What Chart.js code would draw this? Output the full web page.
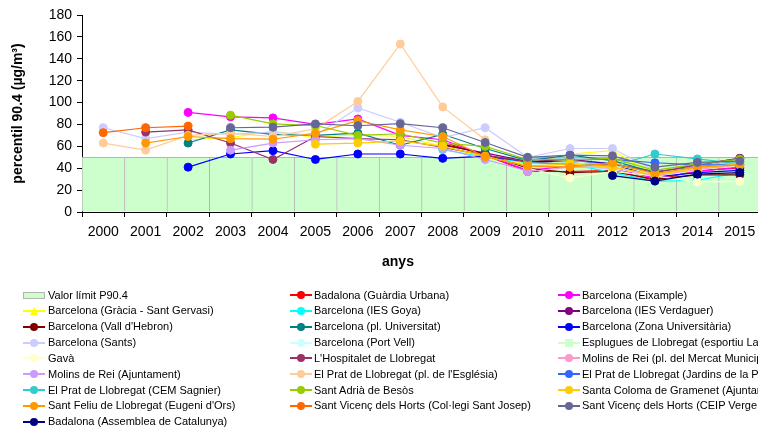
<!DOCTYPE html>
<html><head><meta charset="utf-8">
<script src="https://cdn.jsdelivr.net/npm/chart.js@4.4.1/dist/chart.umd.min.js"></script>
<style>
html,body{margin:0;padding:0;background:#fff;width:758px;height:430px;overflow:hidden;position:relative;font-family:"Liberation Sans",Arial,sans-serif;}
#wrap{position:absolute;left:0;top:0;width:766px;height:275px;}
#legend{position:absolute;left:0;top:0;width:758px;height:430px;pointer-events:none;}
.lt{position:absolute;font-size:11px;line-height:13px;white-space:nowrap;color:#000;}
.ln{position:absolute;height:2px;width:22px;}
.mk{position:absolute;}
#xt{position:absolute;left:348px;width:100px;text-align:center;top:253px;font:bold 14px "Liberation Sans",Arial,sans-serif;color:#000;}
</style></head><body>
<div id="wrap"><canvas id="c" width="766" height="275" style="width:766px;height:275px"></canvas></div>
<div id="xt">anys</div>
<div id="legend"></div>
<script>
// ---- data ----
const years = ['2000','2001','2002','2003','2004','2005','2006','2007','2008','2009','2010','2011','2012','2013','2014','2015'];
const yTicks = [0,20,40,60,80,100,120,140,160,180];
const limitLabel = 'Valor límit P90.4';
const limitValues = [50,50,50,50,50,50,50,50,50,50,50,50,50,50,50,50];

const badalonaGuardia   = [null,null,null,null,null,null,null,null,64,52,37,37,38,29,38,40];
const bcnEixample       = [null,null,91,87,86,80,85,70,66,52,38,42,40,31,37,41];
const bcnGracia         = [null,null,66,68,74,68,71,69,60,50,44,53,56,34,40,43];
const bcnGoya           = [null,null,null,null,null,null,null,null,57,50,45,44,36,28,29,36];
const bcnVerdaguer      = [null,null,null,null,null,null,null,null,61,54,46,48,44,37,43,49];
const bcnVallHebron     = [null,null,null,null,null,null,null,null,62,53,40,36,37,30,34,34];
const bcnUniversitat    = [null,null,63,75,71,70,72,61,71,58,47,52,47,36,42,46];
const bcnZonaUniv       = [null,null,41,53,56,48,53,53,49,51,46,46,44,32,36,38];
const bcnSants          = [77,67,73,71,73,70,95,82,68,77,50,58,58,38,42,46];
const bcnPortVell       = [null,null,null,null,null,null,null,null,null,null,44,42,40,33,38,44];
const esplugues         = [null,null,null,null,null,null,null,null,null,null,44,46,43,36,40,43];
const gava              = [null,null,null,null,null,null,null,null,null,null,40,31,37,33,27.5,28];
const hospitalet        = [null,73,75,63,48,69,67,66,59,52,46,43,44,36,43,49];
const molinsMercat      = [null,null,null,null,null,null,null,null,null,null,37,41,41,33,39,43];
const molinsAjuntament  = [null,null,null,56.5,63,66,67,61,58,48,37.5,null,null,null,null,null];
const pratEsglesia      = [63,56.5,70,72,69,76,101,153.5,96,66,null,null,null,null,null,null];
const pratJardins       = [null,null,null,null,null,null,null,null,null,null,48,48,48,45,43,43];
const pratSagnier       = [null,null,null,null,null,null,null,null,null,null,45,44,42,53,48.5,44];
const santAdria         = [null,null,null,88.5,80.5,79,70,71.5,63,60,48,47.5,49,38,44,48];
const santaColoma       = [null,null,null,null,null,62,63,65,60,51,42,44,41,34,40,44];
const santFeliu         = [null,63,69,67,66.5,72,83.5,75,69,50.5,42,41,44.7,35,41,43];
const santVicencSJ      = [72.5,77,78.5,null,null,null,null,null,null,null,null,null,null,null,null,null];
const santVicencCEIP    = [null,null,null,77,77.5,80.5,78.8,80.7,77,63.5,50,52,51.3,41,45.3,46.5];
const badalonaAssemblea = [null,null,null,null,null,null,null,null,null,null,null,null,33.3,28.3,34.6,36];

const seriesNames = [
  'Badalona (Guàrdia Urbana)','Barcelona (Eixample)','Barcelona (Gràcia - Sant Gervasi)',
  'Barcelona (IES Goya)','Barcelona (IES Verdaguer)','Barcelona (Vall d\'Hebron)',
  'Barcelona (pl. Universitat)','Barcelona (Zona Universitària)','Barcelona (Sants)',
  'Barcelona (Port Vell)','Esplugues de Llobregat (esportiu La Plana)','Gavà',
  'L\'Hospitalet de Llobregat','Molins de Rei (pl. del Mercat Municipal)','Molins de Rei (Ajuntament)',
  'El Prat de Llobregat (pl. de l\'Església)','El Prat de Llobregat (Jardins de la Pau)','El Prat de Llobregat (CEM Sagnier)',
  'Sant Adrià de Besòs','Santa Coloma de Gramenet (Ajuntament)','Sant Feliu de Llobregat (Eugeni d\'Ors)',
  'Sant Vicenç dels Horts (Col·legi Sant Josep)','Sant Vicenç dels Horts (CEIP Verge de la Mercè)','Badalona (Assemblea de Catalunya)'
];
const seriesValues = [badalonaGuardia,bcnEixample,bcnGracia,bcnGoya,bcnVerdaguer,bcnVallHebron,
  bcnUniversitat,bcnZonaUniv,bcnSants,bcnPortVell,esplugues,gava,hospitalet,molinsMercat,molinsAjuntament,
  pratEsglesia,pratJardins,pratSagnier,santAdria,santaColoma,santFeliu,santVicencSJ,santVicencCEIP,badalonaAssemblea];
const seriesColors = ['#FF0000','#FF00FF','#FFFF00','#00FFFF','#800080','#800000','#008080','#0000FF','#CCCCFF',
  '#CCFFFF','#CCFFCC','#FFFFCC','#993366','#FF99CC','#CC99FF','#FFCC99','#3366FF','#33CCCC','#99CC00','#FFCC00',
  '#FF9900','#FF6600','#666699','#000080'];
const seriesMarkers = seriesNames.map((n,i)=> i===2 ? 'triangle' : (i===10 ? 'rect' : 'circle'));

// ---- chart ----
const datasets = [{
  type:'bar', label: limitLabel, data: limitValues,
  backgroundColor:'#CCFFCC', borderColor:'#B4B4B4',
  borderWidth:{top:1,left:1,right:0,bottom:0}, borderSkipped:false,
  barPercentage:1, categoryPercentage:1, order:1000
}];
seriesNames.forEach((name,i)=>{
  datasets.push({
    type:'line', label:name, data:seriesValues[i],
    borderColor:seriesColors[i], backgroundColor:seriesColors[i],
    pointBackgroundColor:seriesColors[i], pointBorderColor:seriesColors[i],
    borderWidth:1.2, pointRadius:4, pointBorderWidth:1, pointStyle:seriesMarkers[i],
    spanGaps:false, tension:0, order:100-i
  });
});

const chart = new Chart(document.getElementById('c'), {
  type:'bar',
  data:{labels:years, datasets:datasets},
  options:{
    responsive:false, animation:false, events:[], devicePixelRatio:1,
    layout:{padding:{left:0,top:15,right:0,bottom:0}},
    plugins:{legend:{display:false}, tooltip:{enabled:false}},
    scales:{
      x:{
        offset:true,
        grid:{display:true, offset:true, drawOnChartArea:false, tickLength:5, color:'#000'},
        border:{color:'#000', width:1},
        ticks:{color:'#000', padding:7, font:{family:'"Liberation Sans", Arial, sans-serif', size:14}},
        afterFit:(s)=>{ s.height = 63; }
      },
      y:{
        min:0, max:180,
        afterBuildTicks:(s)=>{ s.ticks = yTicks.map(v=>({value:v})); },
        grid:{display:true, drawOnChartArea:false, tickLength:5, color:'#000'},
        border:{color:'#000', width:1},
        ticks:{color:'#000', padding:5, font:{family:'"Liberation Sans", Arial, sans-serif', size:14}},
        title:{display:true, text:'percentil 90.4 (µg/m³)', color:'#000', padding:{top:10,bottom:0},
               font:{family:'"Liberation Sans", Arial, sans-serif', size:14, weight:'bold'}},
        afterFit:(s)=>{ s.width = 82; }
      }
    }
  }
});

// ---- legend (HTML, 3 columns) ----
const leg = document.getElementById('legend');
const colMark = [23, 290, 558], colText = [48, 314, 582];
const items = [{label:limitLabel, box:true}].concat(seriesNames.map((n,i)=>({label:n, color:seriesColors[i], marker:seriesMarkers[i]})));
items.forEach((it,k)=>{
  const col = k % 3, row = Math.floor(k/3);
  const yc = 295 + row*15.85;
  const x0 = colMark[col];
  if (it.box){
    const b = document.createElement('div');
    b.className='mk';
    b.style.cssText = `left:${x0}px;top:${yc-3}px;width:20px;height:5px;background:#CCFFCC;border:1px solid #B4B4B4;`;
    leg.appendChild(b);
  } else {
    const l = document.createElement('div');
    l.className='ln';
    l.style.cssText = `left:${x0}px;top:${Math.round(yc)-1}px;background:${it.color};`;
    leg.appendChild(l);
    const m = document.createElement('div');
    m.className='mk';
    const cx = x0+11, cy = Math.round(yc);
    if (it.marker==='triangle'){
      m.style.cssText = `left:${cx-4.5}px;top:${cy-4.5}px;width:0;height:0;border-left:4.5px solid transparent;border-right:4.5px solid transparent;border-bottom:8px solid ${it.color};`;
    } else if (it.marker==='rect'){
      m.style.cssText = `left:${cx-4}px;top:${cy-4}px;width:8px;height:8px;background:${it.color};`;
    } else {
      m.style.cssText = `left:${cx-4}px;top:${cy-4}px;width:8px;height:8px;border-radius:50%;background:${it.color};`;
    }
    leg.appendChild(m);
  }
  const t = document.createElement('div');
  t.className='lt';
  t.style.left = colText[col]+'px';
  t.style.top = (yc-6.5)+'px';
  t.textContent = it.label;
  leg.appendChild(t);
});
</script>
</body></html>
